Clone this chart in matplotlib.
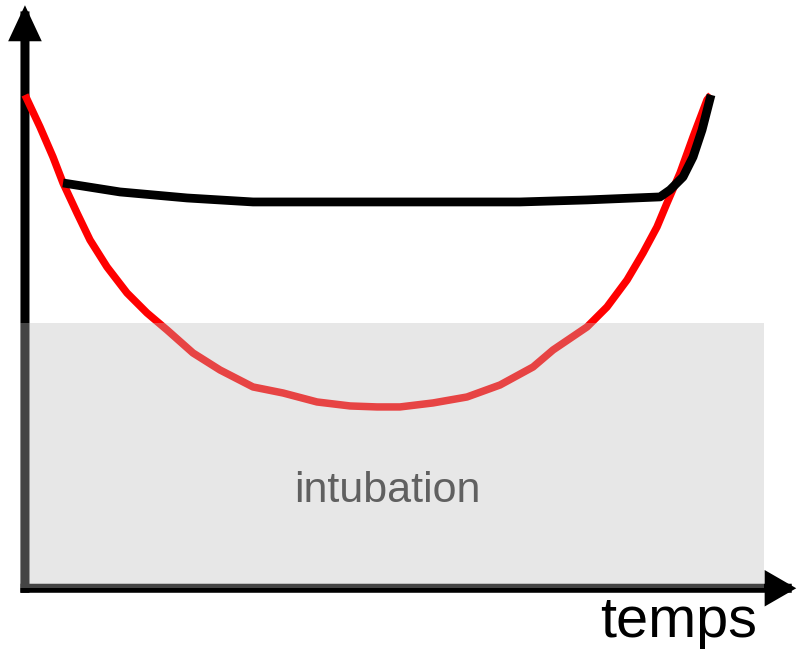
import matplotlib.pyplot as plt
from matplotlib.patches import Rectangle

plt.rcParams['font.family'] = ['Liberation Sans', 'DejaVu Sans']

# red curve: U-shaped (time, value)
red_t = [0.040, 0.242, 0.417, 0.552, 0.740, 0.915, 1.144, 1.413, 1.682, 1.952,
         2.301, 2.665, 3.109, 3.513, 3.970, 4.415, 4.778, 5.087, 5.532, 5.989,
         6.433, 6.878, 7.147, 7.604, 7.873, 8.143, 8.358, 8.546, 8.681, 8.856,
         9.031, 9.219, 9.273]
red_v = [7.481, 6.992, 6.534, 6.137, 5.679, 5.267, 4.855, 4.458, 4.153, 3.893,
         3.542, 3.282, 3.023, 2.931, 2.794, 2.733, 2.718, 2.718, 2.779, 2.870,
         3.053, 3.328, 3.588, 3.939, 4.244, 4.656, 5.069, 5.466, 5.832, 6.290,
         6.840, 7.405, 7.481]

# black curve: flat then rising at the end
black_t = [0.552, 1.319, 2.221, 3.109, 4.415, 6.703, 7.604, 8.587, 8.721, 8.896,
           9.031, 9.152, 9.273]
black_v = [6.137, 6.000, 5.908, 5.847, 5.847, 5.847, 5.878, 5.924, 6.031, 6.229,
           6.534, 6.947, 7.481]

# shaded "intubation" zone
zone_t = (-0.03, 9.99)
zone_v = (-0.05, 4.0)
zone_label = "intubation"
x_label = "temps"

fig = plt.figure(figsize=(7.97, 6.56), dpi=100)
ax = fig.add_axes([0, 0, 1, 1])
ax.set_xlim(-0.296, 10.43)
ax.set_ylim(-1.084, 8.93)
ax.axis("off")

# axes arrows
origin = (0.04, -0.05)
ax.annotate("", xy=(origin[0], 8.85), xytext=origin,
            arrowprops=dict(arrowstyle="-|>,head_length=1.5,head_width=0.7",
                            lw=6.5, color="black", mutation_scale=10,
                            shrinkA=0, shrinkB=0, joinstyle="miter",
                            capstyle="projecting"),
            zorder=1)
ax.annotate("", xy=(10.42, origin[1]), xytext=origin,
            arrowprops=dict(arrowstyle="-|>,head_length=1.3,head_width=0.75",
                            lw=6.5, color="black", mutation_scale=10,
                            shrinkA=0, shrinkB=0, joinstyle="miter",
                            capstyle="projecting"),
            zorder=1)

ax.plot(red_t, red_v, color="#ff0000", lw=5.4, solid_capstyle="butt",
        solid_joinstyle="round", zorder=2)
ax.plot(black_t, black_v, color="black", lw=6.3, solid_capstyle="butt",
        solid_joinstyle="round", zorder=4)

ax.add_patch(Rectangle((zone_t[0], zone_v[0]), zone_t[1] - zone_t[0],
                       zone_v[1] - zone_v[0], facecolor="#bebebe",
                       edgecolor="none", alpha=0.36, zorder=3))

ax.text(4.91, 1.27, zone_label, ha="center", va="baseline", fontsize=31,
        color="#606060", zorder=5)
ax.text(8.84, -0.79, x_label, ha="center", va="baseline", fontsize=41.5,
        color="black", zorder=5)

fig.savefig("out.png", dpi=100)
